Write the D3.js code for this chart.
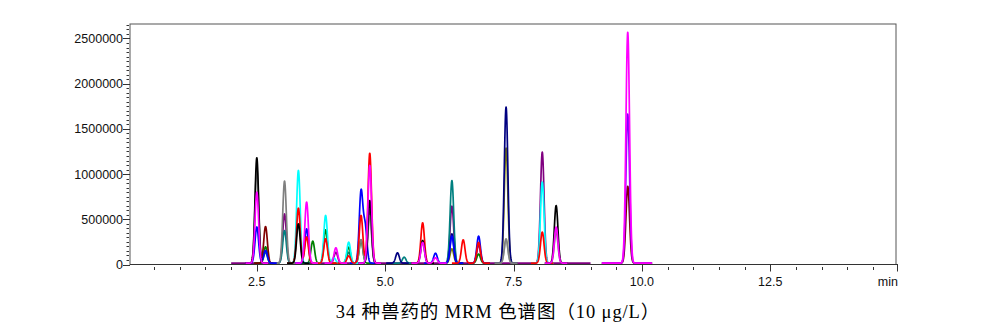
<!DOCTYPE html>
<html><head><meta charset="utf-8">
<script src="https://cdn.jsdelivr.net/npm/d3@7"></script>
<style>body{margin:0;background:#fff}svg{display:block}</style>
</head><body>
<svg id="c" width="1001" height="328"></svg>
<script>
// ---- axis / text data ----
const yTickValues = [0, 500000, 1000000, 1500000, 2000000, 2500000];
const xTickValues = [2.5, 5.0, 7.5, 10.0, 12.5];
const xTickLabels = ["2.5", "5.0", "7.5", "10.0", "12.5"];
const xUnit = "min";
const title = "34 种兽药的 MRM 色谱图（10 μg/L）";
const baselineLevel = 15000;

// ---- peak apex data per trace (retention time in min, intensity) ----
const purpleRT = [3.04, 4.04, 4.70, 6.30, 6.82, 8.06];
const purpleH  = [545000, 120000, 600000, 630000, 200000, 1228000];
const purpleWin = [[2.0, 9.0]];

const tealRT = [2.67, 3.04, 4.29, 5.37, 6.30];
const tealH  = [120000, 360000, 120000, 66000, 914000];

const greenRT = [2.67, 3.59, 3.84, 4.29, 4.53, 6.82];
const greenH  = [180000, 243000, 368000, 177000, 250000, 100000];

const brownRT = [2.67];
const brownH  = [405000];

const oliveRT = [6.30, 7.355];
const oliveH  = [158000, 1272000];

const silverRT = [7.355];
const silverH  = [250000];

const navyRT = [5.24, 6.30, 7.355];
const navyH  = [114000, 324000, 1726000];

const grayRT = [2.50, 3.04, 4.53, 4.70, 7.355, 8.33];
const grayH  = [1050000, 907000, 260000, 527000, 269000, 350000];

const blueRT = [2.50, 2.67, 3.47, 4.53, 4.61, 5.98, 6.30, 6.82];
const blueH  = [400000, 140000, 380000, 785000, 400000, 110000, 300000, 299000];

const cyanRT = [3.31, 3.84, 4.00, 4.29, 8.06];
const cyanH  = [1025000, 527000, 60000, 232000, 896000];

const redRT = [3.31, 3.47, 3.84, 4.29, 4.53, 4.70, 5.73, 6.52, 6.82, 8.06];
const redH  = [608000, 290000, 270000, 80000, 527000, 1217000, 446000, 258000, 230000, 343000];

const blackRT = [2.50, 3.31, 4.70, 5.73, 8.33];
const blackH  = [1165000, 435000, 692000, 250000, 637000];

const magentaRT = [2.50, 3.47, 4.04, 4.70, 5.73, 5.98, 8.33];
const magentaH  = [785000, 675000, 170000, 1080000, 230000, 60000, 398000];

const brownLateRT = [9.725];
const brownLateH  = [850000];
const violetLateRT = [9.725];
const violetLateH  = [1650000];
const magentaLateRT = [9.725];
const magentaLateH  = [2555000];
const lateWin = [[9.22, 10.2]];

const traces = [
  {color: "#800080", rt: purpleRT, h: purpleH, win: purpleWin},
  {color: "#008080", rt: tealRT, h: tealH},
  {color: "#008000", rt: greenRT, h: greenH},
  {color: "#800000", rt: brownRT, h: brownH},
  {color: "#808000", rt: oliveRT, h: oliveH},
  {color: "#a9b4b4", rt: silverRT, h: silverH},
  {color: "#000080", rt: navyRT, h: navyH},
  {color: "#808080", rt: grayRT, h: grayH},
  {color: "#0000ff", rt: blueRT, h: blueH},
  {color: "#00ffff", rt: cyanRT, h: cyanH},
  {color: "#ff0000", rt: redRT, h: redH},
  {color: "#000000", rt: blackRT, h: blackH},
  {color: "#ff00ff", rt: magentaRT, h: magentaH},
  {color: "#800000", rt: brownLateRT, h: brownLateH, win: lateWin},
  {color: "#8000ff", rt: violetLateRT, h: violetLateH, win: lateWin},
  {color: "#ff00ff", rt: magentaLateRT, h: magentaLateH, win: lateWin}
];

// ---- layout ----
const L = 130, R = 896, T = 24, B = 264.5;
const x = d3.scaleLinear().domain([0.03, 14.95]).range([L, R]);
const y = d3.scaleLinear().domain([0, 2660000]).range([B, T]);
const svg = d3.select("#c");
const font = "'Liberation Sans', Arial, sans-serif";

// frame
svg.append("rect").attr("x", L).attr("y", T).attr("width", R - L).attr("height", B - T)
  .attr("fill", "none").attr("stroke", "#555").attr("stroke-width", 1);

// peak rendering style
const sigma = 0.035, halfWin = 0.22, step = 0.004;
const line = d3.line().x(d => x(d[0])).y(d => y(d[1]));
const plot = svg.append("g");
traces.forEach(tr => {
  let wins = tr.win;
  if (!wins) {
    const raw = tr.rt.map(r => [r - halfWin, r + halfWin]).sort((a, b) => a[0] - b[0]);
    wins = [];
    raw.forEach(w => {
      const last = wins[wins.length - 1];
      if (last && w[0] <= last[1]) last[1] = Math.max(last[1], w[1]);
      else wins.push(w.slice());
    });
  }
  wins.forEach(([a, b]) => {
    const pts = [];
    for (let t = a; t <= b + 1e-9; t += step) {
      let v = baselineLevel;
      tr.rt.forEach((r, i) => { v += tr.h[i] * Math.exp(-0.5 * ((t - r) / sigma) ** 2); });
      pts.push([t, v]);
    }
    plot.append("path").attr("d", line(pts)).attr("fill", "none")
      .attr("stroke", tr.color).attr("stroke-width", 1.7).attr("stroke-linejoin", "round");
  });
});

// x axis
svg.append("line").attr("x1", L).attr("x2", R + 2).attr("y1", B).attr("y2", B)
  .attr("stroke", "#333").attr("stroke-width", 1.2);
const xMinor = d3.range(0.5, 14.6, 0.5).filter(v => !xTickValues.some(m => Math.abs(m - v) < 1e-6));
svg.append("g").selectAll("line").data(xMinor).join("line")
  .attr("x1", d => Math.round(x(d)) + 0.5).attr("x2", d => Math.round(x(d)) + 0.5)
  .attr("y1", B + 2.5).attr("y2", B + 5.5).attr("stroke", "#333");
svg.append("g").selectAll("line").data(xTickValues).join("line")
  .attr("x1", d => Math.round(x(d)) + 0.5).attr("x2", d => Math.round(x(d)) + 0.5)
  .attr("y1", B).attr("y2", B + 7).attr("stroke", "#333");
svg.append("line").attr("x1", R + 1.5).attr("x2", R + 1.5).attr("y1", B).attr("y2", B + 7).attr("stroke", "#333");
svg.append("g").selectAll("text").data(xTickValues).join("text")
  .attr("x", d => x(d)).attr("y", B + 21).attr("text-anchor", "middle")
  .attr("font-family", font).attr("font-size", 12.5).attr("fill", "#111")
  .text((d, i) => xTickLabels[i]);
svg.append("text").attr("x", R + 2).attr("y", B + 21).attr("text-anchor", "end")
  .attr("font-family", font).attr("font-size", 12.5).attr("fill", "#111").text(xUnit);

// y axis
const yMinor = d3.range(50000, 2660000, 50000).filter(v => v % 500000 !== 0);
svg.append("g").selectAll("line").data(yMinor).join("line")
  .attr("x1", L - 3.5).attr("x2", L - 1).attr("y1", d => Math.round(y(d)) + 0.5).attr("y2", d => Math.round(y(d)) + 0.5)
  .attr("stroke", "#333");
svg.append("g").selectAll("line").data(yTickValues).join("line")
  .attr("x1", L - 7).attr("x2", L).attr("y1", d => Math.round(y(d)) + 0.5).attr("y2", d => Math.round(y(d)) + 0.5)
  .attr("stroke", "#333");
svg.append("g").selectAll("text").data(yTickValues).join("text")
  .attr("x", L - 7).attr("y", d => y(d)).attr("dy", "0.36em").attr("text-anchor", "end")
  .attr("font-family", font).attr("font-size", 12.5).attr("fill", "#111")
  .text(d => d3.format("d")(d));

// title
svg.append("text").attr("x", 498).attr("y", 318).attr("text-anchor", "middle")
  .attr("font-family", "'Liberation Serif', 'Times New Roman', 'Noto Sans CJK SC', serif")
  .attr("font-size", 18.5).attr("letter-spacing", 0.9).attr("fill", "#000").text(title);
</script>
</body></html>
